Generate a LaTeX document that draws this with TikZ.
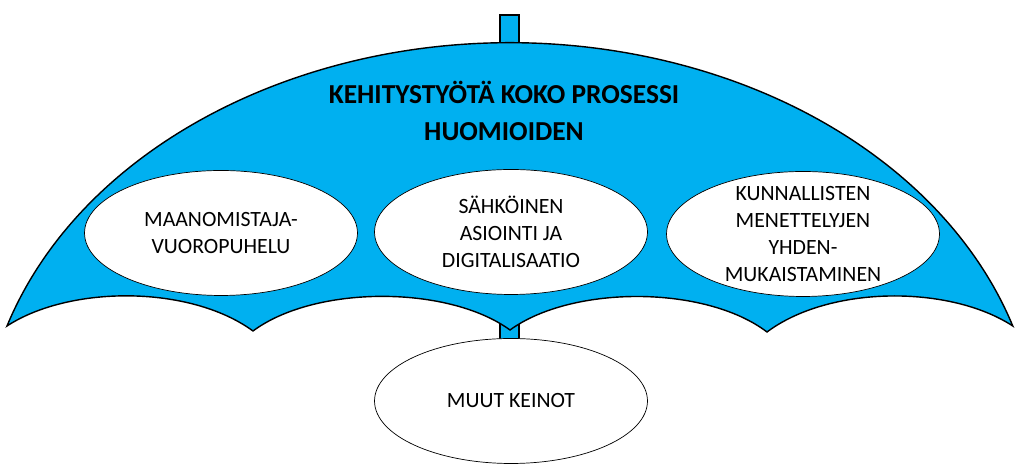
\documentclass[tikz,border=0pt]{standalone}
\usepackage{fontspec}
\setmainfont{Carlito}
\usetikzlibrary{shapes.geometric}
\definecolor{sky}{RGB}{0,176,240}

\begin{document}
\begin{tikzpicture}[x=0.02cm,y=0.02cm]

    \useasboundingbox (0,0) rectangle (1024,465);

    % handle
    \begin{scope}[every path/.style={draw,fill=sky,thick}]
        \path (500,420) rectangle (519,450);
        \path (500,120) rectangle (519,146);
    \end{scope}

    % canopy with scalloped rim
    \draw[fill=sky,thick,line join=miter] (7,139)
        arc[start angle=162.3,end angle=17.7,x radius=10.56cm,y radius=8.14cm]
        .. controls (950,180) and (830,180) .. (767,133)
        .. controls (705,180) and (572,180) .. (510,135)
        .. controls (448,180) and (315,180) .. (253,134)
        .. controls (190,180) and (70,180) .. (7,139) -- cycle;

    \node[font=\fontsize{15.6}{21}\selectfont\bfseries,align=center] (0) at (504,354) {KEHITYSTYÖTÄ KOKO PROSESSI\\HUOMIOIDEN};

    \begin{scope}[every node/.style={ellipse,draw,fill=white,inner sep=0pt,minimum width=5.46cm,minimum height=2.5cm}]
        \node (1) at (221,232) {};
        \node (2) at (511,233) {};
        \node (3) at (803,231) {};
        \node (4) at (511,64) {}; % below the umbrella %
    \end{scope}

    \begin{scope}[every node/.style={align=center,font=\fontsize{12.4}{15.4}\selectfont}]
        \node (1t) at (1) {MAANOMISTAJA-\\VUOROPUHELU};
        \node (2t) at (2) {SÄHKÖINEN\\ASIOINTI JA\\DIGITALISAATIO};
        \node (3t) at (3) {KUNNALLISTEN\\MENETTELYJEN\\YHDEN-\\MUKAISTAMINEN};
        \node (4t) at (4) {MUUT KEINOT};
    \end{scope}

\end{tikzpicture}
\end{document}
